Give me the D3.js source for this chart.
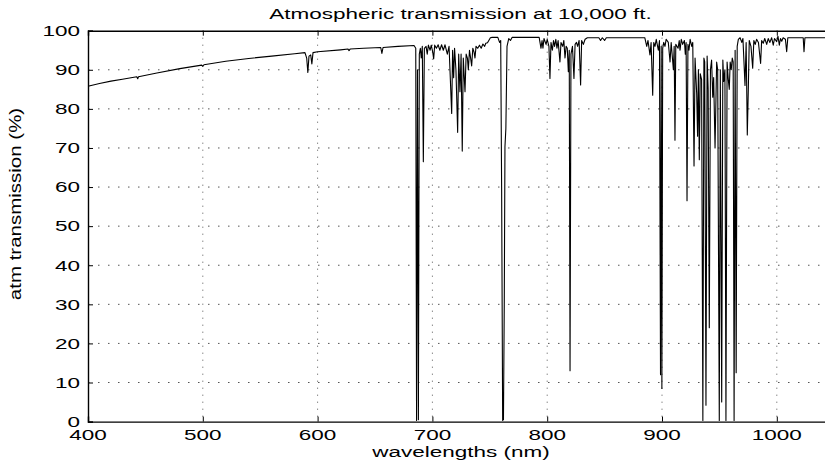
<!DOCTYPE html>
<html>
<head>
<meta charset="utf-8">
<script src="https://cdn.jsdelivr.net/npm/d3@7"></script>
<style>
  html, body { margin: 0; padding: 0; background: #fff; }
  svg { display: block; }
  text { font-family: "Liberation Sans", Arial, Helvetica, sans-serif; fill: #000; }
</style>
</head>
<body>
<div id="chart"></div>
<script>
// ---- data ----
const titleText = "Atmospheric transmission at 10,000 ft.";
const xLabelText = "wavelengths (nm)";
const yLabelText = "atm transmission (%)";
const xTicks = [400, 500, 600, 700, 800, 900, 1000];
const yTicks = [0, 10, 20, 30, 40, 50, 60, 70, 80, 90, 100];
const xDomain = [400, 1050];
const yDomain = [0, 100];

const wavelengths = [
  400, 410, 420, 430, 440, 442.5, 443.3, 444, 460, 480, 499, 500, 501, 520, 540, 560, 580,
  589, 590.5, 591.5, 592.5, 594, 595, 596, 600, 620, 626.5, 627.4, 628.3, 640, 655, 656, 657,
  670, 684, 685.5, 686.2, 687.0, 687.8, 688.6, 689.5, 690.3, 691.2, 692.1, 693, 694.5, 695.5,
  696.5, 698, 699, 700.3, 701.1, 702, 703.5, 705, 706.5, 708, 709.5, 711, 713, 714.5, 716.8,
  717.6, 718.5, 719.3, 720.5, 722.0, 722.9, 724, 725, 726, 726.9, 728.4, 729.4, 730.5, 731.3,
  732.3, 733.3, 734.2, 735.2, 736.3, 737.1, 738, 739.5, 741, 742.5, 744, 745.5, 746.5, 748,
  750.5, 752, 757, 758.5, 759.5, 760.3, 761.2, 761.9, 762.6, 763.2, 764, 765, 766.5, 768,
  769.5, 793, 794.6, 795.5, 796.3, 797.2, 799, 800, 801.5, 802.4, 803.3, 804.5, 805.5, 806.4,
  807.5, 808.5, 809.5, 811.1, 812, 813.5, 814.5, 815.5, 816.5, 817.5, 818.4, 819.2, 819.9,
  820.7, 822, 823.3, 824.3, 825.5, 826.5, 827.8, 829.1, 830, 831.5, 833, 835, 845, 846.5, 848,
  850, 851.5, 885, 886.7, 887.8, 889.5, 890.5, 891.9, 892.8, 893.9, 895, 896.8, 897.8, 898.7,
  899.3, 899.9, 900.6, 901.5, 902.6, 903.6, 905.5, 907, 908, 909.9, 910.6, 911.3, 912, 914,
  915, 915.7, 916.8, 918, 919.5, 920.3, 921, 921.8, 922.6, 923.5, 924.5, 925.9, 926.8, 927.9,
  928.8, 930.2, 931, 931.7, 932.5, 933.3, 934.5, 935.6, 936.5, 937.2, 938.3, 939.3, 940.2,
  941.2, 942.2, 943.2, 944.2, 945, 946.2, 947.6, 948.5, 949.9, 950.8, 952, 953, 953.8, 954.8,
  955.7, 956.7, 957.6, 958.6, 959.4, 960.3, 961.2, 962, 962.8, 963.7, 964.6, 965.5, 966.5,
  968, 969.5, 970.5, 972.3, 973.3, 974.3, 975.2, 976, 977.5, 979, 980, 981.2, 982.4, 984,
  985.9, 986.8, 988.2, 989.5, 991.2, 992.5, 994, 995.5, 996.9, 998, 999.9, 1001, 1002.2,
  1003.2, 1004.3, 1005.5, 1007.5, 1008.6, 1009.6, 1023, 1023.7, 1024.5, 1050
];

const transmission = [
  85.8, 86.5, 87.1, 87.6, 88.1, 88.2, 87.7, 88.2, 89.2, 90.3, 91.2, 90.9, 91.3, 92.2, 92.9, 93.5, 94.1,
  94.4, 93.0, 89.3, 93.5, 93.8, 91.5, 94.4, 94.6, 95.1, 95.3, 94.9, 95.3, 95.5, 95.7, 94.2, 95.7,
  96.0, 96.2, 95.5, 0.3, 90, 0.5, 94, 95.5, 93, 96, 66.5, 95.5, 96, 94,
  96.3, 95, 96.3, 94.5, 92.8, 96.3, 95.5, 96.4, 95, 96.4, 95, 96.4, 94, 96, 78.8,
  95, 88, 95.5, 90, 74, 94, 84.4, 94, 69.2, 93, 84.4, 94, 93, 90,
  95, 93, 91, 95.5, 94.5, 93, 96, 95.5, 96.3, 95.5, 96.6, 96, 96.8, 96.9,
  98.2, 98.3, 98.3, 97, 97.5, 60, 0.3, 0.5, 30, 70.3, 75, 96, 98, 97.5,
  98.3, 98.3, 95.5, 97.5, 95.5, 98, 96.5, 97.8, 96, 87.8, 97, 95, 97.5, 96,
  97.8, 95.5, 97.5, 92.0, 97, 96, 97.5, 93, 96, 95.5, 89.5, 95, 13,
  94, 96, 87.8, 96.5, 97, 96, 97.5, 86.1, 97.5, 96.5, 97.8, 98.2, 98.2, 97.5, 98.2,
  97.5, 98.2, 98.2, 96, 97.5, 93.8, 97, 83.5, 97, 96, 97.8, 95, 97.5, 12,
  96, 8.5, 95.5, 97, 96, 97.8, 97, 92, 97, 90, 96, 72, 96.5, 95.5,
  97.5, 95, 97.8, 96.5, 97.5, 94, 97, 56.5, 96.5, 95, 97.8, 96, 97, 65.4,
  93, 84, 73, 90, 67, 89, 87.5, 0.3, 93, 92, 4.2, 93.5, 85,
  24, 90, 92.5, 83, 88, 70, 92, 90, 0.3, 90, 5, 92.5, 87, 90,
  0.3, 92, 88, 85, 92, 90, 93, 92, 0.3, 95, 12.5, 96, 97.8,
  98.2, 97, 98, 86, 97, 73.3, 85.2, 97.5, 96, 90.4, 97.5, 96.5, 97.8, 97,
  91.6, 97.5, 96.8, 98, 96.5, 98, 97, 98.2, 96.3, 98, 97.2, 98.6, 96.3,
  98, 97.3, 98.2, 97.8, 94.6, 98.2, 98.2, 94.6, 98.2, 98.2
];

// ---- layout ----
const W = 825, H = 463;
const plotLeft = 88, plotTop = 30.7, plotBottom = 421.6;
const pxPer100 = 114.8;
const plotRight = plotLeft + (xDomain[1] - xDomain[0]) / 100 * pxPer100;
const stretch = 1.5;

const svg = d3.select("#chart").append("svg")
  .attr("width", W).attr("height", H);

const x = d3.scaleLinear().domain(xDomain).range([plotLeft, plotRight]);
const y = d3.scaleLinear().domain(yDomain).range([plotBottom, plotTop]);

// grid
const grid = svg.append("g").attr("class", "grid");
grid.selectAll("line.gx").data(xTicks.filter(d => d > xDomain[0])).enter().append("line")
  .attr("x1", d => x(d)).attr("x2", d => x(d))
  .attr("y1", plotTop).attr("y2", plotBottom)
  .attr("stroke", "#555").attr("stroke-width", 1)
  .attr("stroke-dasharray", "1,6");
grid.selectAll("line.gy").data(yTicks.filter(d => d > 0 && d < 100)).enter().append("line")
  .attr("x1", plotLeft).attr("x2", plotRight)
  .attr("y1", d => y(d)).attr("y2", d => y(d))
  .attr("stroke", "#555").attr("stroke-width", 1)
  .attr("stroke-dasharray", "1.5,8.5");

// data line
const pts = wavelengths.map((w, i) => [w, transmission[i]]);
const line = d3.line().x(d => x(d[0])).y(d => y(d[1]));
svg.append("path").datum(pts)
  .attr("d", line)
  .attr("fill", "none")
  .attr("stroke", "#000")
  .attr("stroke-width", 1.1)
  .attr("stroke-linejoin", "round");

// axes with d3 (ticks inward), labels drawn separately for stretched glyphs
const xAxisB = d3.axisBottom(x).tickValues(xTicks).tickSize(-5).tickFormat("");
const xAxisT = d3.axisTop(x).tickValues(xTicks).tickSize(-5).tickFormat("");
const yAxisL = d3.axisLeft(y).tickValues(yTicks).tickSize(-5).tickFormat("");

function styleAxis(g) {
  g.select(".domain").attr("stroke", "#000").attr("stroke-width", 1.4);
  g.selectAll(".tick line").attr("stroke", "#000").attr("stroke-width", 1);
}
svg.append("g").attr("transform", `translate(0,${plotBottom})`).call(xAxisB).call(styleAxis);
svg.append("g").attr("transform", `translate(0,${plotTop})`).call(xAxisT).call(styleAxis);
svg.append("g").attr("transform", `translate(${plotLeft},0)`).call(yAxisL).call(styleAxis);

// tick labels
svg.append("g").selectAll("text").data(xTicks).enter().append("text")
  .attr("transform", d => `translate(${x(d)},440) scale(${stretch},1)`)
  .attr("text-anchor", "middle")
  .style("font-size", "15px")
  .text(d => d);
svg.append("g").selectAll("text").data(yTicks).enter().append("text")
  .attr("transform", d => `translate(80,${y(d) + 5.3}) scale(${stretch},1)`)
  .attr("text-anchor", "end")
  .style("font-size", "15px")
  .text(d => d);

// title and axis labels
svg.append("text")
  .attr("transform", `translate(460.5,18.5) scale(${stretch},1)`)
  .attr("text-anchor", "middle")
  .style("font-size", "15px")
  .text(titleText);
svg.append("text")
  .attr("transform", `translate(461,457) scale(${stretch},1)`)
  .attr("text-anchor", "middle")
  .style("font-size", "15px")
  .text(xLabelText);
svg.append("text")
  .attr("transform", `translate(21,204) scale(0.8,1) rotate(-90)`)
  .attr("text-anchor", "middle")
  .style("font-size", "20.5px")
  .text(yLabelText);
</script>
</body>
</html>
